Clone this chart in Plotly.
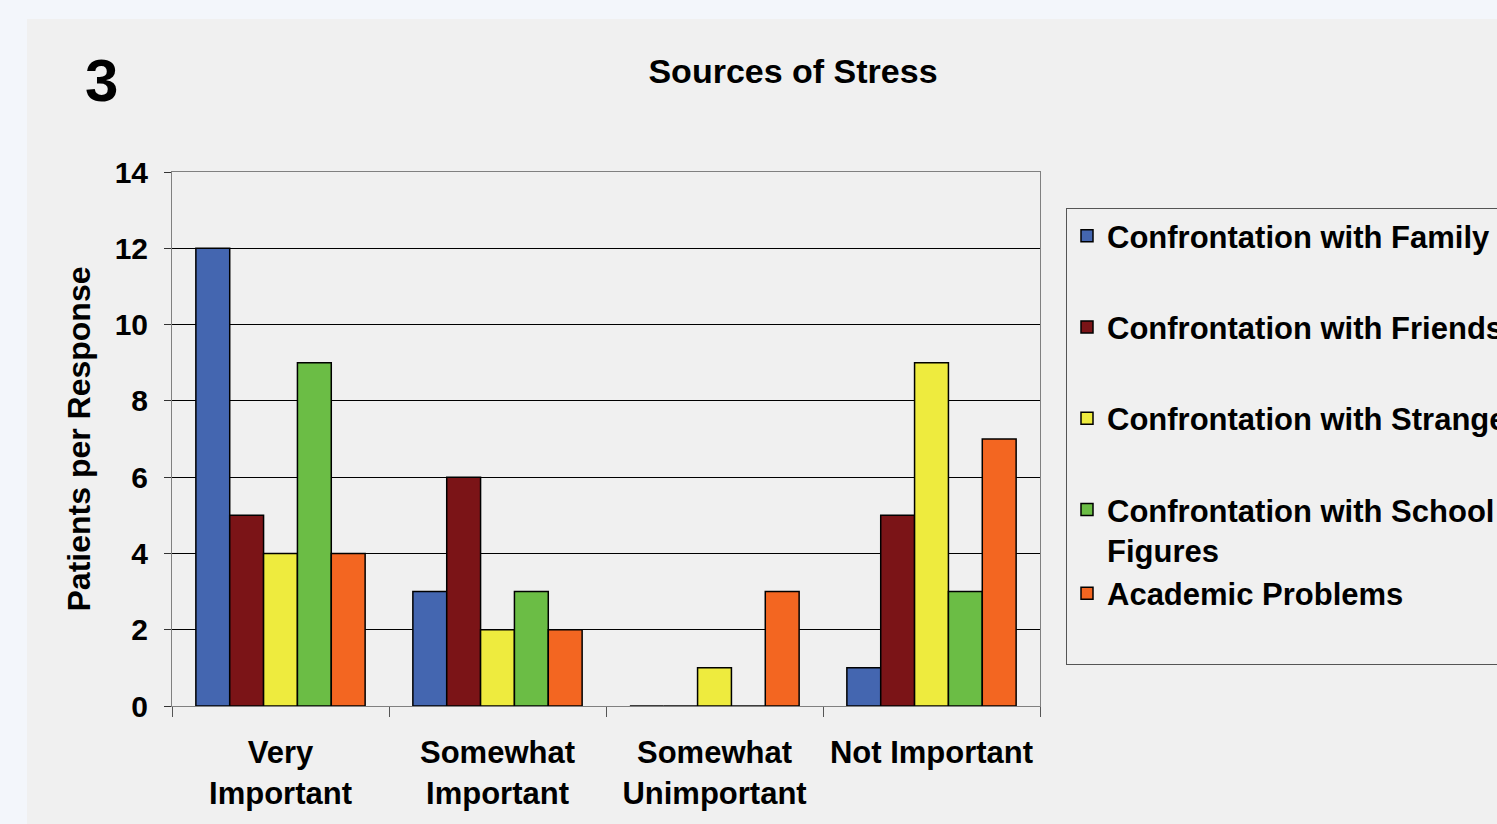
import plotly.graph_objects as go

# datos
categorias = ["Very<br>Important", "Somewhat<br>Important", "Somewhat<br>Unimportant", "Not Important"]
series = [
    "Confrontation with Family",
    "Confrontation with Friends",
    "Confrontation with Strangers",
    "Confrontation with School<br>Figures",
    "Academic Problems",
]
familia = [12, 3, 0, 1]
amigos = [5, 6, 0, 5]
extranos = [4, 2, 1, 9]
escuela = [9, 3, 0, 3]
academicos = [4, 2, 3, 7]
valores = [familia, amigos, extranos, escuela, academicos]
colores = ["#4466B0", "#7B1417", "#EEEB3E", "#6BBD45", "#F36621"]
grupos = ["g1", "g2", "g3", "g4", "g4"]

FONT = "Liberation Sans, Arial, sans-serif"
W, H = 1497, 824

fig = go.Figure()
for nombre, vals, col, grp in zip(series, valores, colores, grupos):
    fig.add_trace(go.Bar(
        x=categorias, y=vals, name=f"<b>{nombre}</b>", legendgroup=grp,
        marker=dict(color=col, line=dict(color="black", width=1.5)),
    ))

# entrada vacia para dejar el hueco bajo la ultima linea de la leyenda
fig.add_trace(go.Scatter(
    x=[None], y=[None], mode="markers", name=" ", legendgroup="g4",
    marker=dict(color="rgba(0,0,0,0)"), hoverinfo="skip",
))

# pixel -> papel
L, R, T, B = 172, 1040, 172, 706
def px_x(p):
    return (p - L) / (R - L)
def px_y(p):
    return (B - p) / (B - T)

fig.update_layout(
    width=W, height=H,
    margin=dict(l=L, r=W - R, t=T, b=H - B, autoexpand=False),
    paper_bgcolor="#F3F6FB",
    plot_bgcolor="white",
    font=dict(family=FONT, size=30, color="black"),
    barmode="group", bargap=0.22, bargroupgap=0,
    title=dict(text="<b>Sources of Stress</b>", x=793 / W, xanchor="center",
               y=1 - 71 / H, yanchor="middle", font=dict(size=34)),
    showlegend=True,
    legend=dict(
        x=px_x(1066), y=px_y(208), xanchor="left", yanchor="top",
        bgcolor="rgba(0,0,0,0)", bordercolor="#555555", borderwidth=1,
        font=dict(size=31, family=FONT), tracegroupgap=48, valign="top",
        traceorder="grouped",
    ),
    shapes=[dict(type="rect", xref="paper", yref="paper", layer="below",
                 x0=px_x(27), x1=px_x(1510), y0=px_y(19), y1=px_y(840),
                 fillcolor="#F0F0F0", line=dict(width=0))],
    annotations=[dict(text="<b>3</b>", xref="paper", yref="paper",
                      x=px_x(101), y=px_y(81), xanchor="center", yanchor="middle",
                      showarrow=False, font=dict(size=60, family=FONT))],
)

fig.update_xaxes(
    showline=True, linecolor="#808080", mirror=True,
    ticks="outside", tickson="boundaries", ticklen=10, tickcolor="#555555",
    tickfont=dict(size=31, family=FONT), tickprefix="<b>", ticksuffix="</b>",
    ticklabelstandoff=19, showgrid=False,
)
fig.update_yaxes(
    range=[0, 14], dtick=2, showline=True, linecolor="#808080", mirror=True,
    ticks="outside", ticklen=7, tickcolor="#333333", ticklabelstandoff=10,
    showgrid=True, gridcolor="black", gridwidth=1,
    zeroline=True, zerolinecolor="black", zerolinewidth=1,
    tickfont=dict(size=30, family=FONT), tickprefix="<b>", ticksuffix="</b>",
    title=dict(text="<b>Patients per Response</b>", standoff=14,
               font=dict(size=32, family=FONT)),
)

fig.write_html(
    "out.html",
    config={"displayModeBar": False},
    post_script="document.body.style.margin='0';document.body.style.overflow='hidden';",
)
